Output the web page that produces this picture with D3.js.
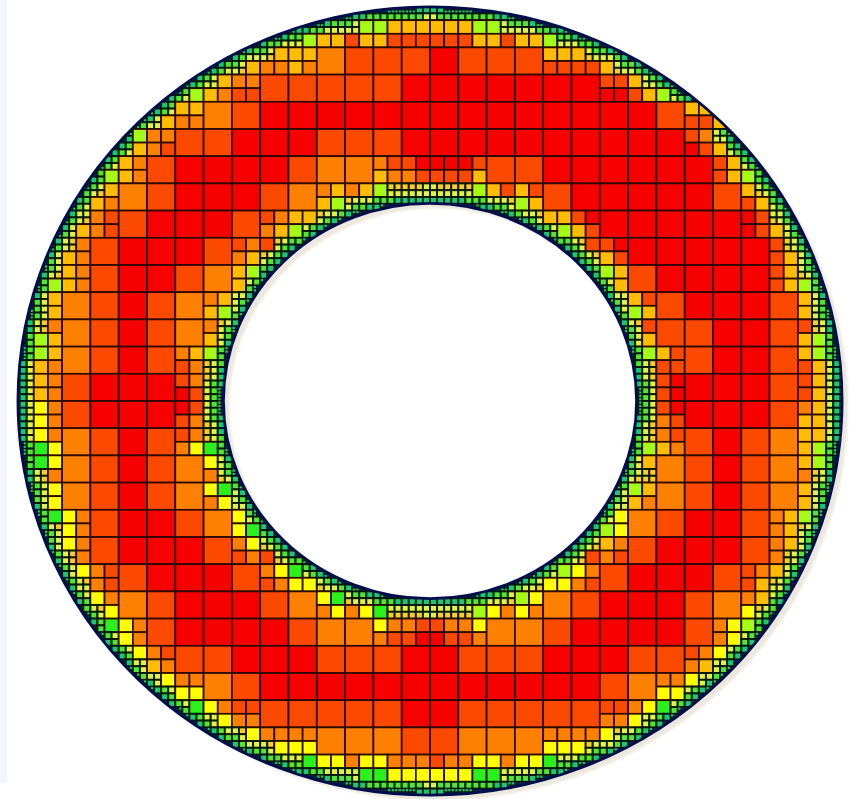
<!DOCTYPE html>
<html><head><meta charset="utf-8">
<script src="https://cdn.jsdelivr.net/npm/d3@7"></script>
<style>html,body{margin:0;padding:0;background:#fff;overflow:hidden}svg{display:block}</style>
</head><body><div id="chart"></div>
<script>
// Mesh: "startColumn:tokens" per coarse row.
// A one-letter token is a whole coarse cell; a four-letter token is its four half cells (tl tr bl br);
// "." means a cell refined further towards the wall.
const meshRows = [
 "",
 "10:...l ..aa .lda laad aadd aadd alda l.ad ..aa ..l.",
 "8:...a .aoo aaao o d d d r d d d aadd a.dd ..a.",
 "6:...l .aao oodd d d d d d r r r r r r r ddrr a.da ..l.",
 "5:...a aaoo o d r r r r r r r r r r r r r r d aadd ..a.",
 "4:.l.a oood d d r r r d d d r r r r r r r r r r dord ..a.",
 "3:...l aoao d r r r r d o o odao drod rrdd rdda d d r r r r r r dada ..l.",
 "3:.aao o d r r r d o oaal oa.. l...|16:.l.. ad.. adla d r r r r r d a.da",
 "2:...a odod d r r r d dooa aal.|19:aa.l drad r r r r r rdrd ..a.",
 "2:.oao d r r r d dooa d...|20:.d.. drad r r r r r d.da",
 "1:...l aoao d r r d o ala.|21:la.a d r r r r dada ..l.",
 "1:.a.a o d r d o oaal|22:adla d r r r d a.a.",
 "1:.ola o d r d o o.a.|22:.d.a d d r r d d.al",
 "1:laao o d r d oado l...|22:.l.. addd d r r d alda",
 "1:aoao d r r r dord|23:drdr r r r d dada",
 "1:yoyo d r r r rddo|23:drod r r r d oaaa",
 "1:yogy o d r d dooy ..g.|22:...l odao d r d o aaal",
 "1:gy.o o d r d o y.o.|22:.a.. o d r d o alo.",
 "1:.y.y o d r d o ygoy|22:laao o d r d o a.a.",
 "1:.g.. yoyo d r r d o y.yg|21:.yly o d r r d oaoa l...",
 "2:yo.o d r r r d oydo ..d.|20:...d aood d r r r d oao.",
 "2:.y.. odod d r r r d oydo g.yy|19:.lyy yood d r r r d doda a...",
 "3:yo.y o d r r r d o ygoy ..oy ..g.|16:...l ..yo lyyo o d r r r d o oay.",
 "3:.g.. yoyo d r r r r d o o yood oddr dord oydo o o d r r r r d oyoy l...",
 "4:.y.. odao d d r r r d d d r r d d d r r r d d dooa y...",
 "5:.y.. ooyy o d r r r r r r r r r r r r d o ooyy y...",
 "6:.g.. yo.y ddoo d d d d d r r d d d d d ddoo oyy. g...",
 "8:.y.. oo.y ooyy o o o d d o o o ooyy ooy. y...",
 "10:.g.. yy.. oy.g yogy ooyy doyy oyyg yog. yy.. g...",
 ""
];
const levelKeys   = ["r","d","o","a","y","l","g"];
const levelColors = ["#f60000","#fb4a00","#fe8000","#ffbc00","#ffff00","#a4fb14","#2cf01c"];
const fineLimits  = [0.1,0.2,0.36,0.62];
const fineColors  = ["#00206a","#12c878","#50e82c","#e4f23a","#ffcc20"];
const outerRadius = 14.56, innerRadius = 7.3;
const yStretch = 1.005;
const gridCount = 30;

const W = 854, H = 799;
const x = d3.scaleLinear().domain([-15,15]).range([5.5,854.5]);
const y = d3.scaleLinear().domain([-15,15]).range([-7,809]);
const color = d3.scaleOrdinal(levelKeys, levelColors);
const fine = d3.scaleThreshold(fineLimits, fineColors);

const rad = (u,v)=>Math.hypot(u,v*yStretch);
function touchesRing(u,v,s){
  const cs=[[u,v],[u+s,v],[u,v+s],[u+s,v+s]].map(c=>rad(c[0],c[1]));
  const nx=Math.max(u,Math.min(0,u+s)), ny=Math.max(v,Math.min(0,v+s));
  const near=rad(nx,ny), far=d3.max(cs);
  return near<outerRadius && far>innerRadius;
}
function wallDist(u,v,s){
  const r=rad(u+s/2,v+s/2);
  return Math.min(outerRadius-r,r-innerRadius);
}
const cells=[];
function refine(u,v,s){
  if(!touchesRing(u,v,s)) return;
  if(s>0.25 || (s>0.125 && wallDist(u,v,s)<0.1)){
    const h=s/2;
    refine(u,v,h);refine(u+h,v,h);refine(u,v+h,h);refine(u+h,v+h,h);
    return;
  }
  cells.push({u,v,s,fill:fine(Math.max(0,wallDist(u,v,s)))});
}
meshRows.forEach((row,j)=>{
  const tokens=new Map();
  row.split("|").filter(Boolean).forEach(seg=>{
    const [start,body]=seg.split(":");
    body.trim().split(/\s+/).forEach((t,k)=>tokens.set(+start+k,t));
  });
  d3.range(gridCount).forEach(i=>{
    const u=i-15,v=j-15,t=tokens.get(i)||".";
    if(t===".") {refine(u,v,1);return;}
    if(t.length===1){cells.push({u,v,s:1,fill:color(t)});return;}
    [...t].forEach((c,k)=>{
      const a=u+(k%2)*.5,b=v+(k>>1)*.5;
      if(c===".") refine(a,b,.5);
      else if(touchesRing(a,b,.5)) cells.push({u:a,v:b,s:.5,fill:color(c)});
    });
  });
});

const svg=d3.select("#chart").append("svg").attr("width",W).attr("height",H);
const defs=svg.append("defs");
defs.append("filter").attr("id","soft").attr("x","-2%").attr("y","-2%").attr("width","104%").attr("height","104%")
  .append("feGaussianBlur").attr("stdDeviation",0.6);
defs.append("filter").attr("id","soft2").append("feGaussianBlur").attr("stdDeviation",1.2);
const rx=r=>x(r)-x(0), ry=r=>(y(r)-y(0))/yStretch;
const cx=x(0), cy=y(0);
const ellipse=(r)=>{const a=rx(r),b=ry(r);
  return `M${cx-a},${cy}A${a},${b} 0 1,0 ${cx+a},${cy}A${a},${b} 0 1,0 ${cx-a},${cy}Z`;};
const ringPath=ellipse(outerRadius)+ellipse(innerRadius);
defs.append("clipPath").attr("id","ring").append("path").attr("d",ringPath).attr("clip-rule","evenodd");

svg.append("rect").attr("x",0).attr("y",0).attr("width",7).attr("height",783).attr("fill","#f3f6fc");
svg.append("path").attr("d",ringPath).attr("fill-rule","evenodd").attr("fill","#ece8de")
  .attr("transform","translate(6,5)").attr("filter","url(#soft2)");
const g=svg.append("g").attr("filter","url(#soft)");
const m=g.append("g").attr("clip-path","url(#ring)");
m.append("rect").attr("width",W).attr("height",H).attr("fill","#0a2a20");
m.selectAll("rect.cell").data(cells).join("rect").attr("class","cell")
  .attr("x",d=>x(d.u)).attr("y",d=>y(d.v))
  .attr("width",d=>x(d.u+d.s)-x(d.u)).attr("height",d=>y(d.v+d.s)-y(d.v))
  .attr("fill",d=>d.fill)
  .attr("stroke",d=>d.s>=.5?"#2a0800":"#061a0a")
  .attr("stroke-width",d=>d.s>=.5?1.7:(d.s>=.25?1.9:1));
g.append("path").attr("d",ringPath).attr("fill","none").attr("stroke","#04104e").attr("stroke-width",2.8);
</script></body></html>
